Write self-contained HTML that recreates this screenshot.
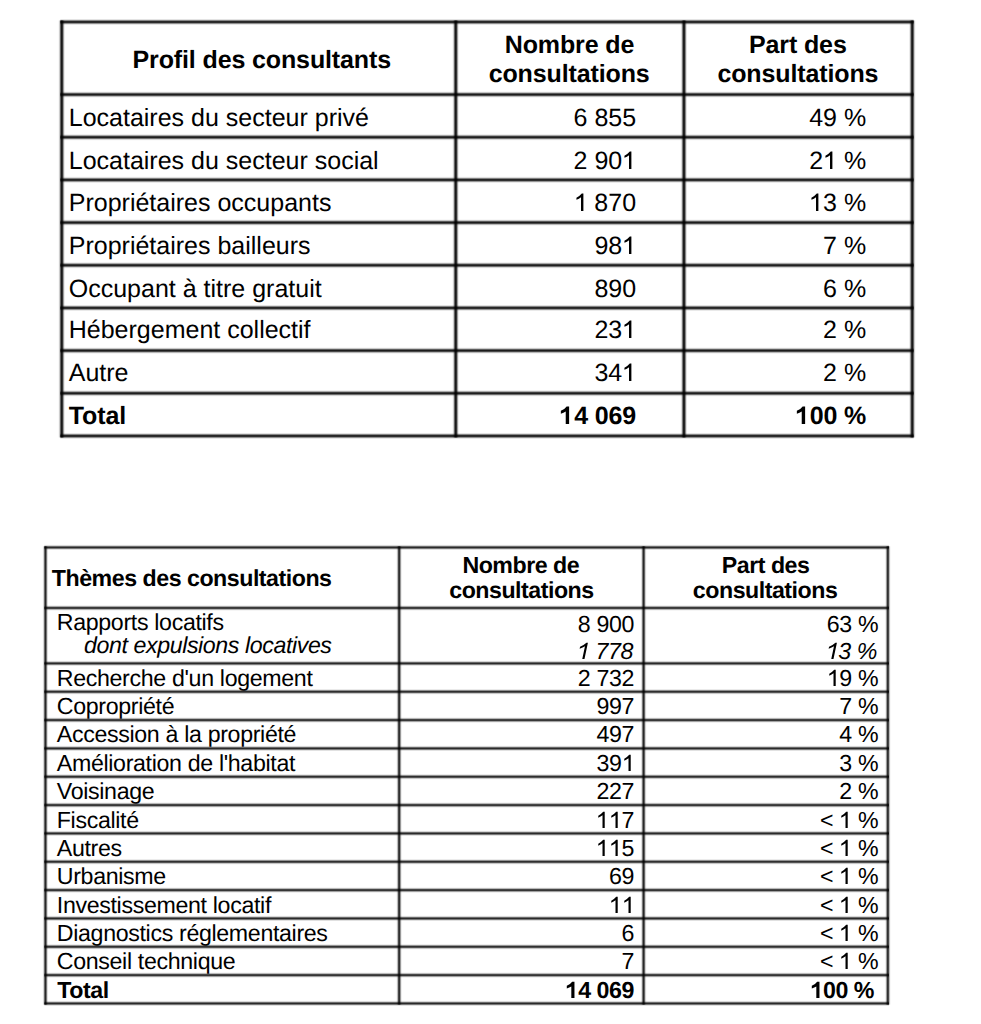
<!DOCTYPE html>
<html><head><meta charset="utf-8"><title>Consultations</title><style>
html,body{margin:0;padding:0;background:#fff;}
body{width:981px;height:1024px;position:relative;overflow:hidden;text-rendering:geometricPrecision;}
#ln{position:absolute;left:0;top:0;}
.t{position:absolute;font-family:"Liberation Sans",sans-serif;line-height:1;white-space:pre;color:#000;}
.g1{display:inline;vertical-align:baseline;overflow:visible;fill:#000;}
</style></head><body>
<svg id="ln" width="981" height="1024" viewBox="0 0 981 1024"><g fill="#000"><rect x="60.35" y="19" width="853.30" height="1" fill-opacity="0.109"/><rect x="60.35" y="20" width="853.30" height="1" fill-opacity="0.468"/><rect x="60.35" y="21" width="853.30" height="1" fill-opacity="0.842"/><rect x="60.35" y="22" width="853.30" height="1" fill-opacity="0.828"/><rect x="60.35" y="23" width="853.30" height="1" fill-opacity="0.440"/><rect x="60.35" y="24" width="853.30" height="1" fill-opacity="0.097"/><rect x="60.35" y="91" width="853.30" height="1" fill-opacity="0.029"/><rect x="60.35" y="92" width="853.30" height="1" fill-opacity="0.228"/><rect x="60.35" y="93" width="853.30" height="1" fill-opacity="0.654"/><rect x="60.35" y="94" width="853.30" height="1" fill-opacity="0.892"/><rect x="60.35" y="95" width="853.30" height="1" fill-opacity="0.694"/><rect x="60.35" y="96" width="853.30" height="1" fill-opacity="0.264"/><rect x="60.35" y="97" width="853.30" height="1" fill-opacity="0.037"/><rect x="60.35" y="134" width="853.30" height="1" fill-opacity="0.064"/><rect x="60.35" y="135" width="853.30" height="1" fill-opacity="0.354"/><rect x="60.35" y="136" width="853.30" height="1" fill-opacity="0.774"/><rect x="60.35" y="137" width="853.30" height="1" fill-opacity="0.875"/><rect x="60.35" y="138" width="853.30" height="1" fill-opacity="0.556"/><rect x="60.35" y="139" width="853.30" height="1" fill-opacity="0.157"/><rect x="60.35" y="140" width="853.30" height="1" fill-opacity="0.015"/><rect x="60.35" y="176" width="853.30" height="1" fill-opacity="0.011"/><rect x="60.35" y="177" width="853.30" height="1" fill-opacity="0.125"/><rect x="60.35" y="178" width="853.30" height="1" fill-opacity="0.499"/><rect x="60.35" y="179" width="853.30" height="1" fill-opacity="0.856"/><rect x="60.35" y="180" width="853.30" height="1" fill-opacity="0.810"/><rect x="60.35" y="181" width="853.30" height="1" fill-opacity="0.409"/><rect x="60.35" y="182" width="853.30" height="1" fill-opacity="0.084"/><rect x="60.35" y="219" width="853.30" height="1" fill-opacity="0.027"/><rect x="60.35" y="220" width="853.30" height="1" fill-opacity="0.219"/><rect x="60.35" y="221" width="853.30" height="1" fill-opacity="0.643"/><rect x="60.35" y="222" width="853.30" height="1" fill-opacity="0.891"/><rect x="60.35" y="223" width="853.30" height="1" fill-opacity="0.704"/><rect x="60.35" y="224" width="853.30" height="1" fill-opacity="0.273"/><rect x="60.35" y="225" width="853.30" height="1" fill-opacity="0.040"/><rect x="60.35" y="262" width="853.30" height="1" fill-opacity="0.060"/><rect x="60.35" y="263" width="853.30" height="1" fill-opacity="0.344"/><rect x="60.35" y="264" width="853.30" height="1" fill-opacity="0.766"/><rect x="60.35" y="265" width="853.30" height="1" fill-opacity="0.878"/><rect x="60.35" y="266" width="853.30" height="1" fill-opacity="0.567"/><rect x="60.35" y="267" width="853.30" height="1" fill-opacity="0.164"/><rect x="60.35" y="268" width="853.30" height="1" fill-opacity="0.017"/><rect x="60.35" y="305" width="853.30" height="1" fill-opacity="0.119"/><rect x="60.35" y="306" width="853.30" height="1" fill-opacity="0.488"/><rect x="60.35" y="307" width="853.30" height="1" fill-opacity="0.851"/><rect x="60.35" y="308" width="853.30" height="1" fill-opacity="0.817"/><rect x="60.35" y="309" width="853.30" height="1" fill-opacity="0.420"/><rect x="60.35" y="310" width="853.30" height="1" fill-opacity="0.088"/><rect x="60.35" y="347" width="853.30" height="1" fill-opacity="0.025"/><rect x="60.35" y="348" width="853.30" height="1" fill-opacity="0.211"/><rect x="60.35" y="349" width="853.30" height="1" fill-opacity="0.633"/><rect x="60.35" y="350" width="853.30" height="1" fill-opacity="0.890"/><rect x="60.35" y="351" width="853.30" height="1" fill-opacity="0.713"/><rect x="60.35" y="352" width="853.30" height="1" fill-opacity="0.283"/><rect x="60.35" y="353" width="853.30" height="1" fill-opacity="0.042"/><rect x="60.35" y="390" width="853.30" height="1" fill-opacity="0.057"/><rect x="60.35" y="391" width="853.30" height="1" fill-opacity="0.333"/><rect x="60.35" y="392" width="853.30" height="1" fill-opacity="0.757"/><rect x="60.35" y="393" width="853.30" height="1" fill-opacity="0.881"/><rect x="60.35" y="394" width="853.30" height="1" fill-opacity="0.578"/><rect x="60.35" y="395" width="853.30" height="1" fill-opacity="0.172"/><rect x="60.35" y="396" width="853.30" height="1" fill-opacity="0.018"/><rect x="60.35" y="433" width="853.30" height="1" fill-opacity="0.114"/><rect x="60.35" y="434" width="853.30" height="1" fill-opacity="0.477"/><rect x="60.35" y="435" width="853.30" height="1" fill-opacity="0.846"/><rect x="60.35" y="436" width="853.30" height="1" fill-opacity="0.823"/><rect x="60.35" y="437" width="853.30" height="1" fill-opacity="0.431"/><rect x="60.35" y="438" width="853.30" height="1" fill-opacity="0.093"/><rect x="58" y="20.47" width="1" height="416.98" fill-opacity="0.022"/><rect x="59" y="20.47" width="1" height="416.98" fill-opacity="0.194"/><rect x="60" y="20.47" width="1" height="416.98" fill-opacity="0.612"/><rect x="61" y="20.47" width="1" height="416.98" fill-opacity="0.903"/><rect x="62" y="20.47" width="1" height="416.98" fill-opacity="0.801"/><rect x="63" y="20.47" width="1" height="416.98" fill-opacity="0.387"/><rect x="64" y="20.47" width="1" height="416.98" fill-opacity="0.075"/><rect x="452" y="20.47" width="1" height="416.98" fill-opacity="0.022"/><rect x="453" y="20.47" width="1" height="416.98" fill-opacity="0.194"/><rect x="454" y="20.47" width="1" height="416.98" fill-opacity="0.612"/><rect x="455" y="20.47" width="1" height="416.98" fill-opacity="0.903"/><rect x="456" y="20.47" width="1" height="416.98" fill-opacity="0.801"/><rect x="457" y="20.47" width="1" height="416.98" fill-opacity="0.387"/><rect x="458" y="20.47" width="1" height="416.98" fill-opacity="0.075"/><rect x="680" y="20.47" width="1" height="416.98" fill-opacity="0.012"/><rect x="681" y="20.47" width="1" height="416.98" fill-opacity="0.137"/><rect x="682" y="20.47" width="1" height="416.98" fill-opacity="0.523"/><rect x="683" y="20.47" width="1" height="416.98" fill-opacity="0.874"/><rect x="684" y="20.47" width="1" height="416.98" fill-opacity="0.853"/><rect x="685" y="20.47" width="1" height="416.98" fill-opacity="0.477"/><rect x="686" y="20.47" width="1" height="416.98" fill-opacity="0.114"/><rect x="909" y="20.47" width="1" height="416.98" fill-opacity="0.075"/><rect x="910" y="20.47" width="1" height="416.98" fill-opacity="0.387"/><rect x="911" y="20.47" width="1" height="416.98" fill-opacity="0.801"/><rect x="912" y="20.47" width="1" height="416.98" fill-opacity="0.903"/><rect x="913" y="20.47" width="1" height="416.98" fill-opacity="0.612"/><rect x="914" y="20.47" width="1" height="416.98" fill-opacity="0.194"/><rect x="915" y="20.47" width="1" height="416.98" fill-opacity="0.022"/><rect x="44.33" y="544" width="844.65" height="1" fill-opacity="0.011"/><rect x="44.33" y="545" width="844.65" height="1" fill-opacity="0.153"/><rect x="44.33" y="546" width="844.65" height="1" fill-opacity="0.581"/><rect x="44.33" y="547" width="844.65" height="1" fill-opacity="0.837"/><rect x="44.33" y="548" width="844.65" height="1" fill-opacity="0.534"/><rect x="44.33" y="549" width="844.65" height="1" fill-opacity="0.125"/><rect x="44.33" y="605" width="844.65" height="1" fill-opacity="0.050"/><rect x="44.33" y="606" width="844.65" height="1" fill-opacity="0.343"/><rect x="44.33" y="607" width="844.65" height="1" fill-opacity="0.774"/><rect x="44.33" y="608" width="844.65" height="1" fill-opacity="0.744"/><rect x="44.33" y="609" width="844.65" height="1" fill-opacity="0.298"/><rect x="44.33" y="610" width="844.65" height="1" fill-opacity="0.038"/><rect x="44.33" y="660" width="844.65" height="1" fill-opacity="0.013"/><rect x="44.33" y="661" width="844.65" height="1" fill-opacity="0.168"/><rect x="44.33" y="662" width="844.65" height="1" fill-opacity="0.604"/><rect x="44.33" y="663" width="844.65" height="1" fill-opacity="0.835"/><rect x="44.33" y="664" width="844.65" height="1" fill-opacity="0.510"/><rect x="44.33" y="665" width="844.65" height="1" fill-opacity="0.113"/><rect x="44.33" y="689" width="844.65" height="1" fill-opacity="0.083"/><rect x="44.33" y="690" width="844.65" height="1" fill-opacity="0.443"/><rect x="44.33" y="691" width="844.65" height="1" fill-opacity="0.820"/><rect x="44.33" y="692" width="844.65" height="1" fill-opacity="0.665"/><rect x="44.33" y="693" width="844.65" height="1" fill-opacity="0.214"/><rect x="44.33" y="694" width="844.65" height="1" fill-opacity="0.021"/><rect x="44.33" y="717" width="844.65" height="1" fill-opacity="0.035"/><rect x="44.33" y="718" width="844.65" height="1" fill-opacity="0.287"/><rect x="44.33" y="719" width="844.65" height="1" fill-opacity="0.735"/><rect x="44.33" y="720" width="844.65" height="1" fill-opacity="0.781"/><rect x="44.33" y="721" width="844.65" height="1" fill-opacity="0.355"/><rect x="44.33" y="722" width="844.65" height="1" fill-opacity="0.053"/><rect x="44.33" y="745" width="844.65" height="1" fill-opacity="0.013"/><rect x="44.33" y="746" width="844.65" height="1" fill-opacity="0.163"/><rect x="44.33" y="747" width="844.65" height="1" fill-opacity="0.598"/><rect x="44.33" y="748" width="844.65" height="1" fill-opacity="0.836"/><rect x="44.33" y="749" width="844.65" height="1" fill-opacity="0.516"/><rect x="44.33" y="750" width="844.65" height="1" fill-opacity="0.116"/><rect x="44.33" y="774" width="844.65" height="1" fill-opacity="0.081"/><rect x="44.33" y="775" width="844.65" height="1" fill-opacity="0.436"/><rect x="44.33" y="776" width="844.65" height="1" fill-opacity="0.818"/><rect x="44.33" y="777" width="844.65" height="1" fill-opacity="0.670"/><rect x="44.33" y="778" width="844.65" height="1" fill-opacity="0.219"/><rect x="44.33" y="779" width="844.65" height="1" fill-opacity="0.022"/><rect x="44.33" y="802" width="844.65" height="1" fill-opacity="0.034"/><rect x="44.33" y="803" width="844.65" height="1" fill-opacity="0.282"/><rect x="44.33" y="804" width="844.65" height="1" fill-opacity="0.730"/><rect x="44.33" y="805" width="844.65" height="1" fill-opacity="0.785"/><rect x="44.33" y="806" width="844.65" height="1" fill-opacity="0.361"/><rect x="44.33" y="807" width="844.65" height="1" fill-opacity="0.055"/><rect x="44.33" y="830" width="844.65" height="1" fill-opacity="0.012"/><rect x="44.33" y="831" width="844.65" height="1" fill-opacity="0.159"/><rect x="44.33" y="832" width="844.65" height="1" fill-opacity="0.591"/><rect x="44.33" y="833" width="844.65" height="1" fill-opacity="0.836"/><rect x="44.33" y="834" width="844.65" height="1" fill-opacity="0.523"/><rect x="44.33" y="835" width="844.65" height="1" fill-opacity="0.120"/><rect x="44.33" y="859" width="844.65" height="1" fill-opacity="0.078"/><rect x="44.33" y="860" width="844.65" height="1" fill-opacity="0.429"/><rect x="44.33" y="861" width="844.65" height="1" fill-opacity="0.815"/><rect x="44.33" y="862" width="844.65" height="1" fill-opacity="0.676"/><rect x="44.33" y="863" width="844.65" height="1" fill-opacity="0.225"/><rect x="44.33" y="864" width="844.65" height="1" fill-opacity="0.023"/><rect x="44.33" y="887" width="844.65" height="1" fill-opacity="0.033"/><rect x="44.33" y="888" width="844.65" height="1" fill-opacity="0.276"/><rect x="44.33" y="889" width="844.65" height="1" fill-opacity="0.726"/><rect x="44.33" y="890" width="844.65" height="1" fill-opacity="0.788"/><rect x="44.33" y="891" width="844.65" height="1" fill-opacity="0.367"/><rect x="44.33" y="892" width="844.65" height="1" fill-opacity="0.057"/><rect x="44.33" y="915" width="844.65" height="1" fill-opacity="0.012"/><rect x="44.33" y="916" width="844.65" height="1" fill-opacity="0.155"/><rect x="44.33" y="917" width="844.65" height="1" fill-opacity="0.585"/><rect x="44.33" y="918" width="844.65" height="1" fill-opacity="0.837"/><rect x="44.33" y="919" width="844.65" height="1" fill-opacity="0.530"/><rect x="44.33" y="920" width="844.65" height="1" fill-opacity="0.123"/><rect x="44.33" y="944" width="844.65" height="1" fill-opacity="0.075"/><rect x="44.33" y="945" width="844.65" height="1" fill-opacity="0.422"/><rect x="44.33" y="946" width="844.65" height="1" fill-opacity="0.813"/><rect x="44.33" y="947" width="844.65" height="1" fill-opacity="0.682"/><rect x="44.33" y="948" width="844.65" height="1" fill-opacity="0.230"/><rect x="44.33" y="949" width="844.65" height="1" fill-opacity="0.023"/><rect x="44.33" y="972" width="844.65" height="1" fill-opacity="0.032"/><rect x="44.33" y="973" width="844.65" height="1" fill-opacity="0.270"/><rect x="44.33" y="974" width="844.65" height="1" fill-opacity="0.721"/><rect x="44.33" y="975" width="844.65" height="1" fill-opacity="0.792"/><rect x="44.33" y="976" width="844.65" height="1" fill-opacity="0.374"/><rect x="44.33" y="977" width="844.65" height="1" fill-opacity="0.059"/><rect x="44.33" y="1000" width="844.65" height="1" fill-opacity="0.011"/><rect x="44.33" y="1001" width="844.65" height="1" fill-opacity="0.151"/><rect x="44.33" y="1002" width="844.65" height="1" fill-opacity="0.578"/><rect x="44.33" y="1003" width="844.65" height="1" fill-opacity="0.838"/><rect x="44.33" y="1004" width="844.65" height="1" fill-opacity="0.537"/><rect x="44.33" y="1005" width="844.65" height="1" fill-opacity="0.127"/><rect x="42" y="546.30" width="1" height="458.31" fill-opacity="0.012"/><rect x="43" y="546.30" width="1" height="458.31" fill-opacity="0.160"/><rect x="44" y="546.30" width="1" height="458.31" fill-opacity="0.594"/><rect x="45" y="546.30" width="1" height="458.31" fill-opacity="0.847"/><rect x="46" y="546.30" width="1" height="458.31" fill-opacity="0.546"/><rect x="47" y="546.30" width="1" height="458.31" fill-opacity="0.132"/><rect x="396" y="546.30" width="1" height="458.31" fill-opacity="0.030"/><rect x="397" y="546.30" width="1" height="458.31" fill-opacity="0.263"/><rect x="398" y="546.30" width="1" height="458.31" fill-opacity="0.717"/><rect x="399" y="546.30" width="1" height="458.31" fill-opacity="0.811"/><rect x="400" y="546.30" width="1" height="458.31" fill-opacity="0.406"/><rect x="401" y="546.30" width="1" height="458.31" fill-opacity="0.069"/><rect x="641" y="546.30" width="1" height="458.31" fill-opacity="0.119"/><rect x="642" y="546.30" width="1" height="458.31" fill-opacity="0.522"/><rect x="643" y="546.30" width="1" height="458.31" fill-opacity="0.844"/><rect x="644" y="546.30" width="1" height="458.31" fill-opacity="0.617"/><rect x="645" y="546.30" width="1" height="458.31" fill-opacity="0.176"/><rect x="646" y="546.30" width="1" height="458.31" fill-opacity="0.015"/><rect x="885" y="546.30" width="1" height="458.31" fill-opacity="0.068"/><rect x="886" y="546.30" width="1" height="458.31" fill-opacity="0.401"/><rect x="887" y="546.30" width="1" height="458.31" fill-opacity="0.809"/><rect x="888" y="546.30" width="1" height="458.31" fill-opacity="0.720"/><rect x="889" y="546.30" width="1" height="458.31" fill-opacity="0.267"/><rect x="890" y="546.30" width="1" height="458.31" fill-opacity="0.031"/></g></svg>
<div class="t" style="left:132.49px;top:48px;font-size:25.0px;font-weight:bold;letter-spacing:-0.12px;">Profil des consultants</div>
<div class="t" style="left:504.76px;top:33px;font-size:25.0px;font-weight:bold;letter-spacing:-0.12px;">Nombre de</div>
<div class="t" style="left:488.68px;top:62px;font-size:25.0px;font-weight:bold;letter-spacing:-0.12px;">consultations</div>
<div class="t" style="left:748.98px;top:33px;font-size:25.0px;font-weight:bold;letter-spacing:-0.12px;">Part des</div>
<div class="t" style="left:717.43px;top:62px;font-size:25.0px;font-weight:bold;letter-spacing:-0.12px;">consultations</div>
<div class="t" style="left:68.75px;top:106px;font-size:25.0px;">Locataires du secteur privé</div>
<div class="t" style="left:573.54px;top:106px;font-size:25.0px;">6 855</div>
<div class="t" style="left:809.22px;top:106px;font-size:25.0px;">49 %</div>
<div class="t" style="left:68.75px;top:149px;font-size:25.0px;">Locataires du secteur social</div>
<div class="t" style="left:573.54px;top:149px;font-size:25.0px;">2 90<svg class="g1" style="transform:translateY(-0.5px);margin-right:0.0px;width:0.5562em;height:0.6982em" viewBox="0 0 1139 1430" preserveAspectRatio="none"><path d="M770,1430L575,1430L575,300Q420,420 200,520L200,345Q450,225 640,0L770,0Z"/></svg></div>
<div class="t" style="left:809.22px;top:149px;font-size:25.0px;">2<svg class="g1" style="transform:translateY(-0.5px);margin-right:0.0px;width:0.5562em;height:0.6982em" viewBox="0 0 1139 1430" preserveAspectRatio="none"><path d="M770,1430L575,1430L575,300Q420,420 200,520L200,345Q450,225 640,0L770,0Z"/></svg> %</div>
<div class="t" style="left:68.75px;top:191px;font-size:25.0px;">Propriétaires occupants</div>
<div class="t" style="left:573.54px;top:191px;font-size:25.0px;"><svg class="g1" style="transform:translateY(-0.5px);margin-right:0.0px;width:0.5562em;height:0.6982em" viewBox="0 0 1139 1430" preserveAspectRatio="none"><path d="M770,1430L575,1430L575,300Q420,420 200,520L200,345Q450,225 640,0L770,0Z"/></svg> 870</div>
<div class="t" style="left:809.22px;top:191px;font-size:25.0px;"><svg class="g1" style="transform:translateY(-0.5px);margin-right:0.0px;width:0.5562em;height:0.6982em" viewBox="0 0 1139 1430" preserveAspectRatio="none"><path d="M770,1430L575,1430L575,300Q420,420 200,520L200,345Q450,225 640,0L770,0Z"/></svg>3 %</div>
<div class="t" style="left:68.75px;top:234px;font-size:25.0px;">Propriétaires bailleurs</div>
<div class="t" style="left:594.40px;top:234px;font-size:25.0px;">98<svg class="g1" style="transform:translateY(-0.5px);margin-right:0.0px;width:0.5562em;height:0.6982em" viewBox="0 0 1139 1430" preserveAspectRatio="none"><path d="M770,1430L575,1430L575,300Q420,420 200,520L200,345Q450,225 640,0L770,0Z"/></svg></div>
<div class="t" style="left:823.11px;top:234px;font-size:25.0px;">7 %</div>
<div class="t" style="left:68.75px;top:277px;font-size:25.0px;">Occupant à titre gratuit</div>
<div class="t" style="left:594.38px;top:277px;font-size:25.0px;">890</div>
<div class="t" style="left:823.11px;top:277px;font-size:25.0px;">6 %</div>
<div class="t" style="left:68.75px;top:318px;font-size:25.0px;">Hébergement collectif</div>
<div class="t" style="left:594.40px;top:318px;font-size:25.0px;">23<svg class="g1" style="transform:translateY(-0.5px);margin-right:0.0px;width:0.5562em;height:0.6982em" viewBox="0 0 1139 1430" preserveAspectRatio="none"><path d="M770,1430L575,1430L575,300Q420,420 200,520L200,345Q450,225 640,0L770,0Z"/></svg></div>
<div class="t" style="left:823.11px;top:318px;font-size:25.0px;">2 %</div>
<div class="t" style="left:68.75px;top:361px;font-size:25.0px;">Autre</div>
<div class="t" style="left:594.40px;top:361px;font-size:25.0px;">34<svg class="g1" style="transform:translateY(-0.5px);margin-right:0.0px;width:0.5562em;height:0.6982em" viewBox="0 0 1139 1430" preserveAspectRatio="none"><path d="M770,1430L575,1430L575,300Q420,420 200,520L200,345Q450,225 640,0L770,0Z"/></svg></div>
<div class="t" style="left:823.11px;top:361px;font-size:25.0px;">2 %</div>
<div class="t" style="left:68.75px;top:404px;font-size:25.0px;font-weight:bold;letter-spacing:-0.12px;">Total</div>
<div class="t" style="left:560.35px;top:404px;font-size:25.0px;font-weight:bold;letter-spacing:-0.12px;"><svg class="g1" style="transform:translateY(-0.5px);margin-right:-0.12px;width:0.5562em;height:0.6982em" viewBox="0 0 1139 1430" preserveAspectRatio="none"><path d="M748,1430L470,1430L470,400Q300,500 70,585L70,350Q400,220 545,0L748,0Z"/></svg>4 069</div>
<div class="t" style="left:795.90px;top:404px;font-size:25.0px;font-weight:bold;letter-spacing:-0.12px;"><svg class="g1" style="transform:translateY(-0.5px);margin-right:-0.12px;width:0.5562em;height:0.6982em" viewBox="0 0 1139 1430" preserveAspectRatio="none"><path d="M748,1430L470,1430L470,400Q300,500 70,585L70,350Q400,220 545,0L748,0Z"/></svg>00 %</div>
<div class="t" style="left:51.84px;top:567px;font-size:23.2px;font-weight:bold;letter-spacing:-0.48px;">Thèmes des consultations</div>
<div class="t" style="left:462.43px;top:554px;font-size:23.2px;font-weight:bold;letter-spacing:-0.48px;">Nombre de</div>
<div class="t" style="left:449.22px;top:579px;font-size:23.2px;font-weight:bold;letter-spacing:-0.48px;">consultations</div>
<div class="t" style="left:721.78px;top:554px;font-size:23.2px;font-weight:bold;letter-spacing:-0.48px;">Part des</div>
<div class="t" style="left:692.87px;top:579px;font-size:23.2px;font-weight:bold;letter-spacing:-0.48px;">consultations</div>
<div class="t" style="left:56.80px;top:611px;font-size:23.2px;letter-spacing:-0.34px;">Rapports locatifs</div>
<div class="t" style="left:84.03px;top:634px;font-size:23.2px;font-style:italic;letter-spacing:-0.41px;">dont expulsions locatives</div>
<div class="t" style="left:577.84px;top:613px;font-size:23.2px;letter-spacing:-0.34px;">8 900</div>
<div class="t" style="left:576.96px;top:640px;font-size:23.2px;font-style:italic;letter-spacing:-0.41px;"><svg class="g1" style="transform:translateY(-0.15px);margin-right:-0.41px;width:0.5562em;height:0.6982em" viewBox="0 0 1139 1430" preserveAspectRatio="none"><path d="M660,1430L465,1430L705,300Q525,420 233,520L271,345Q596,225 834,0L964,0Z"/></svg> 778</div>
<div class="t" style="left:826.72px;top:613px;font-size:23.2px;letter-spacing:-0.34px;">63 %</div>
<div class="t" style="left:825.65px;top:640px;font-size:23.2px;font-style:italic;letter-spacing:-0.41px;"><svg class="g1" style="transform:translateY(-0.15px);margin-right:-0.41px;width:0.5562em;height:0.6982em" viewBox="0 0 1139 1430" preserveAspectRatio="none"><path d="M660,1430L465,1430L705,300Q525,420 233,520L271,345Q596,225 834,0L964,0Z"/></svg>3 %</div>
<div class="t" style="left:56.80px;top:667px;font-size:23.2px;letter-spacing:-0.34px;">Recherche d'un logement</div>
<div class="t" style="left:577.84px;top:667px;font-size:23.2px;letter-spacing:-0.34px;">2 732</div>
<div class="t" style="left:826.72px;top:667px;font-size:23.2px;letter-spacing:-0.34px;"><svg class="g1" style="transform:translateY(-0.15px);margin-right:-0.34px;width:0.5562em;height:0.6982em" viewBox="0 0 1139 1430" preserveAspectRatio="none"><path d="M770,1430L575,1430L575,300Q420,420 200,520L200,345Q450,225 640,0L770,0Z"/></svg>9 %</div>
<div class="t" style="left:56.80px;top:695px;font-size:23.2px;letter-spacing:-0.34px;">Copropriété</div>
<div class="t" style="left:596.50px;top:695px;font-size:23.2px;letter-spacing:-0.34px;">997</div>
<div class="t" style="left:839.29px;top:695px;font-size:23.2px;letter-spacing:-0.34px;">7 %</div>
<div class="t" style="left:56.80px;top:723px;font-size:23.2px;letter-spacing:-0.34px;">Accession à la propriété</div>
<div class="t" style="left:596.50px;top:723px;font-size:23.2px;letter-spacing:-0.34px;">497</div>
<div class="t" style="left:839.29px;top:723px;font-size:23.2px;letter-spacing:-0.34px;">4 %</div>
<div class="t" style="left:56.80px;top:752px;font-size:23.2px;letter-spacing:-0.34px;">Amélioration de l'habitat</div>
<div class="t" style="left:596.48px;top:752px;font-size:23.2px;letter-spacing:-0.34px;">39<svg class="g1" style="transform:translateY(-0.15px);margin-right:-0.34px;width:0.5562em;height:0.6982em" viewBox="0 0 1139 1430" preserveAspectRatio="none"><path d="M770,1430L575,1430L575,300Q420,420 200,520L200,345Q450,225 640,0L770,0Z"/></svg></div>
<div class="t" style="left:839.29px;top:752px;font-size:23.2px;letter-spacing:-0.34px;">3 %</div>
<div class="t" style="left:56.80px;top:780px;font-size:23.2px;letter-spacing:-0.34px;">Voisinage</div>
<div class="t" style="left:596.50px;top:780px;font-size:23.2px;letter-spacing:-0.34px;">227</div>
<div class="t" style="left:839.29px;top:780px;font-size:23.2px;letter-spacing:-0.34px;">2 %</div>
<div class="t" style="left:56.80px;top:809px;font-size:23.2px;letter-spacing:-0.34px;">Fiscalité</div>
<div class="t" style="left:596.48px;top:809px;font-size:23.2px;letter-spacing:-0.34px;"><svg class="g1" style="transform:translateY(-0.15px);margin-right:-0.34px;width:0.5562em;height:0.6982em" viewBox="0 0 1139 1430" preserveAspectRatio="none"><path d="M770,1430L575,1430L575,300Q420,420 200,520L200,345Q450,225 640,0L770,0Z"/></svg><svg class="g1" style="transform:translateY(-0.15px);margin-right:-0.34px;width:0.5562em;height:0.6982em" viewBox="0 0 1139 1430" preserveAspectRatio="none"><path d="M770,1430L575,1430L575,300Q420,420 200,520L200,345Q450,225 640,0L770,0Z"/></svg>7</div>
<div class="t" style="left:819.96px;top:809px;font-size:23.2px;letter-spacing:-0.34px;">&lt; <svg class="g1" style="transform:translateY(-0.15px);margin-right:-0.34px;width:0.5562em;height:0.6982em" viewBox="0 0 1139 1430" preserveAspectRatio="none"><path d="M770,1430L575,1430L575,300Q420,420 200,520L200,345Q450,225 640,0L770,0Z"/></svg> %</div>
<div class="t" style="left:56.80px;top:837px;font-size:23.2px;letter-spacing:-0.34px;">Autres</div>
<div class="t" style="left:596.48px;top:837px;font-size:23.2px;letter-spacing:-0.34px;"><svg class="g1" style="transform:translateY(-0.15px);margin-right:-0.34px;width:0.5562em;height:0.6982em" viewBox="0 0 1139 1430" preserveAspectRatio="none"><path d="M770,1430L575,1430L575,300Q420,420 200,520L200,345Q450,225 640,0L770,0Z"/></svg><svg class="g1" style="transform:translateY(-0.15px);margin-right:-0.34px;width:0.5562em;height:0.6982em" viewBox="0 0 1139 1430" preserveAspectRatio="none"><path d="M770,1430L575,1430L575,300Q420,420 200,520L200,345Q450,225 640,0L770,0Z"/></svg>5</div>
<div class="t" style="left:819.96px;top:837px;font-size:23.2px;letter-spacing:-0.34px;">&lt; <svg class="g1" style="transform:translateY(-0.15px);margin-right:-0.34px;width:0.5562em;height:0.6982em" viewBox="0 0 1139 1430" preserveAspectRatio="none"><path d="M770,1430L575,1430L575,300Q420,420 200,520L200,345Q450,225 640,0L770,0Z"/></svg> %</div>
<div class="t" style="left:56.80px;top:865px;font-size:23.2px;letter-spacing:-0.34px;">Urbanisme</div>
<div class="t" style="left:609.04px;top:865px;font-size:23.2px;letter-spacing:-0.34px;">69</div>
<div class="t" style="left:819.96px;top:865px;font-size:23.2px;letter-spacing:-0.34px;">&lt; <svg class="g1" style="transform:translateY(-0.15px);margin-right:-0.34px;width:0.5562em;height:0.6982em" viewBox="0 0 1139 1430" preserveAspectRatio="none"><path d="M770,1430L575,1430L575,300Q420,420 200,520L200,345Q450,225 640,0L770,0Z"/></svg> %</div>
<div class="t" style="left:56.80px;top:894px;font-size:23.2px;letter-spacing:-0.34px;">Investissement locatif</div>
<div class="t" style="left:609.04px;top:894px;font-size:23.2px;letter-spacing:-0.34px;"><svg class="g1" style="transform:translateY(-0.15px);margin-right:-0.34px;width:0.5562em;height:0.6982em" viewBox="0 0 1139 1430" preserveAspectRatio="none"><path d="M770,1430L575,1430L575,300Q420,420 200,520L200,345Q450,225 640,0L770,0Z"/></svg><svg class="g1" style="transform:translateY(-0.15px);margin-right:-0.34px;width:0.5562em;height:0.6982em" viewBox="0 0 1139 1430" preserveAspectRatio="none"><path d="M770,1430L575,1430L575,300Q420,420 200,520L200,345Q450,225 640,0L770,0Z"/></svg></div>
<div class="t" style="left:819.96px;top:894px;font-size:23.2px;letter-spacing:-0.34px;">&lt; <svg class="g1" style="transform:translateY(-0.15px);margin-right:-0.34px;width:0.5562em;height:0.6982em" viewBox="0 0 1139 1430" preserveAspectRatio="none"><path d="M770,1430L575,1430L575,300Q420,420 200,520L200,345Q450,225 640,0L770,0Z"/></svg> %</div>
<div class="t" style="left:56.80px;top:922px;font-size:23.2px;letter-spacing:-0.34px;">Diagnostics réglementaires</div>
<div class="t" style="left:621.61px;top:922px;font-size:23.2px;letter-spacing:-0.34px;">6</div>
<div class="t" style="left:819.96px;top:922px;font-size:23.2px;letter-spacing:-0.34px;">&lt; <svg class="g1" style="transform:translateY(-0.15px);margin-right:-0.34px;width:0.5562em;height:0.6982em" viewBox="0 0 1139 1430" preserveAspectRatio="none"><path d="M770,1430L575,1430L575,300Q420,420 200,520L200,345Q450,225 640,0L770,0Z"/></svg> %</div>
<div class="t" style="left:56.80px;top:950px;font-size:23.2px;letter-spacing:-0.34px;">Conseil technique</div>
<div class="t" style="left:621.61px;top:950px;font-size:23.2px;letter-spacing:-0.34px;">7</div>
<div class="t" style="left:819.96px;top:950px;font-size:23.2px;letter-spacing:-0.34px;">&lt; <svg class="g1" style="transform:translateY(-0.15px);margin-right:-0.34px;width:0.5562em;height:0.6982em" viewBox="0 0 1139 1430" preserveAspectRatio="none"><path d="M770,1430L575,1430L575,300Q420,420 200,520L200,345Q450,225 640,0L770,0Z"/></svg> %</div>
<div class="t" style="left:57.37px;top:979px;font-size:23.2px;font-weight:bold;letter-spacing:-0.48px;">Total</div>
<div class="t" style="left:565.79px;top:979px;font-size:23.2px;font-weight:bold;letter-spacing:-0.48px;"><svg class="g1" style="transform:translateY(-0.15px);margin-right:-0.48px;width:0.5562em;height:0.6982em" viewBox="0 0 1139 1430" preserveAspectRatio="none"><path d="M748,1430L470,1430L470,400Q300,500 70,585L70,350Q400,220 545,0L748,0Z"/></svg>4 069</div>
<div class="t" style="left:810.66px;top:979px;font-size:23.2px;font-weight:bold;letter-spacing:-0.48px;"><svg class="g1" style="transform:translateY(-0.15px);margin-right:-0.48px;width:0.5562em;height:0.6982em" viewBox="0 0 1139 1430" preserveAspectRatio="none"><path d="M748,1430L470,1430L470,400Q300,500 70,585L70,350Q400,220 545,0L748,0Z"/></svg>00 %</div>
</body></html>
